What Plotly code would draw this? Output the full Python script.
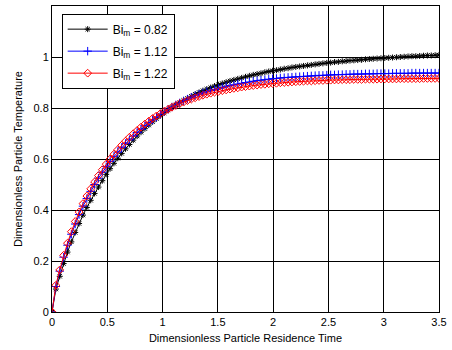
import plotly.graph_objects as go

# Time grid (dimensionless residence time)
t = [0.0, 0.035, 0.07, 0.105, 0.14, 0.175, 0.21, 0.245, 0.28, 0.315,
     0.35, 0.385, 0.42, 0.455, 0.49, 0.525, 0.56, 0.595, 0.63, 0.665,
     0.7, 0.735, 0.77, 0.805, 0.84, 0.875, 0.91, 0.945, 0.98, 1.015,
     1.05, 1.085, 1.12, 1.155, 1.19, 1.225, 1.26, 1.295, 1.33, 1.365,
     1.4, 1.435, 1.47, 1.505, 1.54, 1.575, 1.61, 1.645, 1.68, 1.715,
     1.75, 1.785, 1.82, 1.855, 1.89, 1.925, 1.96, 1.995, 2.03, 2.065,
     2.1, 2.135, 2.17, 2.205, 2.24, 2.275, 2.31, 2.345, 2.38, 2.415,
     2.45, 2.485, 2.52, 2.555, 2.59, 2.625, 2.66, 2.695, 2.73, 2.765,
     2.8, 2.835, 2.87, 2.905, 2.94, 2.975, 3.01, 3.045, 3.08, 3.115,
     3.15, 3.185, 3.22, 3.255, 3.29, 3.325, 3.36, 3.395, 3.43, 3.465,
     3.5]

# Bi_m = 0.82
temp_082 = [0.0, 0.09, 0.14, 0.19, 0.235, 0.275, 0.312, 0.347, 0.38, 0.41,
            0.438, 0.465, 0.49, 0.515, 0.54, 0.562, 0.583, 0.603, 0.622, 0.64,
            0.657, 0.674, 0.69, 0.705, 0.719, 0.733, 0.746, 0.758, 0.77, 0.781,
            0.792, 0.802, 0.812, 0.821, 0.83, 0.838, 0.846, 0.854, 0.861, 0.868,
            0.874, 0.88, 0.886, 0.891, 0.896, 0.901, 0.906, 0.91, 0.914, 0.918,
            0.922, 0.926, 0.93, 0.933, 0.936, 0.94, 0.943, 0.946, 0.948, 0.951,
            0.954, 0.956, 0.959, 0.961, 0.963, 0.965, 0.967, 0.969, 0.971, 0.973,
            0.975, 0.977, 0.978, 0.98, 0.981, 0.983, 0.984, 0.986, 0.987, 0.988,
            0.989, 0.991, 0.992, 0.993, 0.994, 0.995, 0.996, 0.997, 0.998, 0.999,
            1.0, 1.001, 1.002, 1.003, 1.003, 1.004, 1.005, 1.006, 1.006, 1.007,
            1.008]

# Bi_m = 1.12
temp_112 = [0.0, 0.1, 0.16, 0.215, 0.262, 0.305, 0.345, 0.382, 0.415, 0.445,
            0.473, 0.5, 0.525, 0.548, 0.57, 0.59, 0.609, 0.627, 0.644, 0.66,
            0.675, 0.69, 0.704, 0.717, 0.73, 0.742, 0.753, 0.764, 0.776, 0.786,
            0.795, 0.804, 0.812, 0.82, 0.828, 0.835, 0.842, 0.848, 0.854, 0.859,
            0.864, 0.869, 0.873, 0.877, 0.881, 0.885, 0.888, 0.891, 0.894, 0.897,
            0.9, 0.902, 0.905, 0.907, 0.909, 0.911, 0.913, 0.915, 0.916, 0.918,
            0.919, 0.92, 0.921, 0.922, 0.923, 0.924, 0.925, 0.926, 0.927, 0.928,
            0.928, 0.929, 0.93, 0.93, 0.931, 0.931, 0.932, 0.932, 0.933, 0.933,
            0.933, 0.934, 0.934, 0.934, 0.935, 0.935, 0.935, 0.935, 0.936, 0.936,
            0.936, 0.936, 0.936, 0.937, 0.937, 0.937, 0.937, 0.937, 0.937, 0.937,
            0.937]

# Bi_m = 1.22
temp_122 = [0.0, 0.105, 0.165, 0.222, 0.27, 0.315, 0.355, 0.392, 0.425, 0.455,
            0.483, 0.51, 0.535, 0.558, 0.58, 0.6, 0.619, 0.637, 0.654, 0.67,
            0.685, 0.699, 0.712, 0.725, 0.737, 0.748, 0.759, 0.769, 0.778, 0.787,
            0.795, 0.803, 0.81, 0.817, 0.823, 0.829, 0.835, 0.84, 0.845, 0.85,
            0.854, 0.858, 0.862, 0.865, 0.868, 0.871, 0.874, 0.877, 0.879, 0.882,
            0.884, 0.886, 0.888, 0.89, 0.892, 0.893, 0.895, 0.896, 0.897, 0.899,
            0.9, 0.901, 0.902, 0.903, 0.904, 0.905, 0.906, 0.906, 0.907, 0.908,
            0.908, 0.909, 0.909, 0.91, 0.91, 0.911, 0.911, 0.911, 0.912, 0.912,
            0.912, 0.913, 0.913, 0.913, 0.913, 0.914, 0.914, 0.914, 0.914, 0.914,
            0.915, 0.915, 0.915, 0.915, 0.915, 0.915, 0.916, 0.916, 0.916, 0.916,
            0.916]

series_names = ["Bi<sub>m</sub> = 0.82", "Bi<sub>m</sub> = 1.12", "Bi<sub>m</sub> = 1.22"]
x_ticks = [0, 0.5, 1, 1.5, 2, 2.5, 3, 3.5]
x_tick_labels = ["0", "0.5", "1", "1.5", "2", "2.5", "3", "3.5"]
y_ticks = [0, 0.2, 0.4, 0.6, 0.8, 1]
y_tick_labels = ["0", "0.2", "0.4", "0.6", "0.8", "1"]

FONT = "Arial, 'Liberation Sans', sans-serif"

fig = go.Figure()
styles = [
    ("black", "asterisk-open", 5),
    ("blue", "cross-thin-open", 6),
    ("red", "diamond-open", 6),
]
for i, (ys, name, (col, sym, sz)) in enumerate(zip([temp_082, temp_112, temp_122], series_names, styles)):
    fig.add_trace(go.Scatter(
        x=t, y=ys, name=name, mode="lines+markers", legendgroup=f"g{i}",
        line=dict(color=col, width=1),
        marker=dict(symbol=sym, size=sz, color=col, line=dict(color=col, width=1)),
    ))

axis_common = dict(
    showline=True, linecolor="black", linewidth=1, mirror=True,
    showgrid=True, gridcolor="black", gridwidth=1,
    ticks="inside", ticklen=4, tickcolor="black",
    zeroline=False,
    tickfont=dict(family=FONT, size=11, color="black"),
)

fig.update_layout(
    width=452, height=350,
    margin=dict(l=52, r=10, t=5, b=38),
    paper_bgcolor="white", plot_bgcolor="white",
    font=dict(family=FONT, size=11, color="black"),
    showlegend=True,
    legend=dict(
        x=0.025, y=0.975, xanchor="left", yanchor="top",
        bgcolor="white", bordercolor="black", borderwidth=1,
        font=dict(family=FONT, size=12, color="black"),
        tracegroupgap=3, itemwidth=40,
    ),
    xaxis=dict(
        range=[0, 3.5], tickvals=x_ticks, ticktext=x_tick_labels,
        title=dict(text="Dimensionless Particle Residence Time", standoff=7,
                   font=dict(family=FONT, size=11, color="black")),
        **axis_common,
    ),
    yaxis=dict(
        range=[0, 1.2], tickvals=y_ticks, ticktext=y_tick_labels,
        title=dict(text="Dimensionless Particle Temperature", standoff=8,
                   font=dict(family=FONT, size=11, color="black")),
        **axis_common,
    ),
)

fig.write_html("out.html")
